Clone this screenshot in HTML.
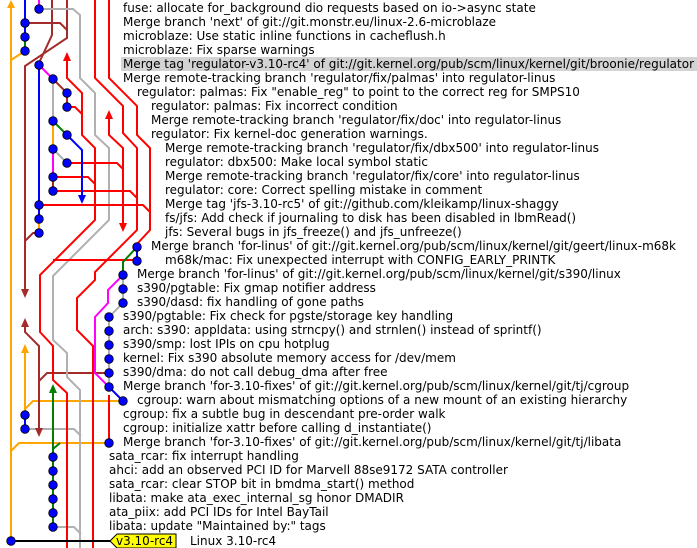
<!DOCTYPE html>
<html><head><meta charset="utf-8"><style>
html,body{margin:0;padding:0;background:#fff;}
#c{position:relative;width:697px;height:548px;overflow:hidden;background:#fff;}
svg{position:absolute;left:0;top:0;}
.t{position:absolute;font-family:"DejaVu Sans","Liberation Sans",sans-serif;font-size:12px;line-height:14px;height:14px;white-space:nowrap;color:#000;}
</style></head><body><div id="c">
<div style="position:absolute;left:121px;top:57px;width:576px;height:14px;background:#d3d3d3"></div>
<svg width="697" height="548" viewBox="0 0 697 548" fill="none" stroke-width="2" stroke-linejoin="miter">
<path d="M11 6 V541" stroke="#ffa500"/>
<path d="M11 60 L25 51" stroke="#ffa500"/>
<path d="M25 352 V409 L33 401 H123" stroke="#ffa500"/>
<path d="M25 409 V415" stroke="#ffa500"/>
<path d="M109 443 H19 L11 451" stroke="#ffa500"/>
<path d="M53 121 V149" stroke="#ffa500"/>
<path d="M39 219 V233" stroke="#ffa500"/>
<path d="M25 0 V37" stroke="#0000ff"/>
<path d="M25 37 V51" stroke="#008000"/>
<path d="M39 0 V9" stroke="#ff00ff"/>
<path d="M39 65 V219" stroke="#0000ff"/>
<path d="M25 415 V429" stroke="#0000ff"/>
<path d="M52 0 V35 L39 63" stroke="#a52a2a"/>
<path d="M25 23 H60 L67 30" stroke="#a52a2a"/>
<path d="M67 0 V38 L25 66 V293" stroke="#a52a2a"/>
<path d="M39 233 H33 L25 241" stroke="#a52a2a"/>
<path d="M53 79 L67 93 V107" stroke="#a52a2a"/>
<path d="M53 177 V191" stroke="#a52a2a"/>
<path d="M25 326 V332 L39 346 V433" stroke="#a52a2a"/>
<path d="M109 373 H47 L39 381" stroke="#a52a2a"/>
<path d="M39 65 L53 79" stroke="#ff00ff"/>
<path d="M53 149 V177" stroke="#ff00ff"/>
<path d="M53 121 L67 135" stroke="#008000"/>
<path d="M123 275 L108 290 V303 L95 317 V373 L109 387" stroke="#ff00ff"/>
<path d="M109 387 L123 401" stroke="#0000ff"/>
<path d="M39 9 H73 L80 15 V78 L95 93 V135 L109 148 V220 L53 276 V340 L67 353 V377 L80 390 V548" stroke="#b0b0b0"/>
<path d="M53 79 V121" stroke="#b0b0b0"/>
<path d="M53 149 L67 163" stroke="#b0b0b0"/>
<path d="M123 275 V303 L109 317 V387" stroke="#b0b0b0"/>
<path d="M25 429 H74 L81 436" stroke="#b0b0b0"/>
<path d="M53 527 H74 L81 534" stroke="#b0b0b0"/>
<path d="M67 61 V78 L82 93 V135 L95 148 V220 L40 275 V332 L53 346 V380 L67 393 V548" stroke="#ff0000"/>
<path d="M67 107 H75 L82 114" stroke="#ff0000"/>
<path d="M95 0 V78 L123 106 V133 L137 148 V230 L95 272 V280 L77 298 V330 L93 346 V548" stroke="#ff0000"/>
<path d="M109 0 V78 L137 106 V135 L150 148 V230 L137 244" stroke="#ff0000"/>
<path d="M109 116 V135 L123 148 V224" stroke="#ff0000"/>
<path d="M67 163 H117 L123 169" stroke="#ff0000"/>
<path d="M53 177 H88 L95 184" stroke="#ff0000"/>
<path d="M53 191 H130 L137 198" stroke="#ff0000"/>
<path d="M39 205 H143 L150 212" stroke="#ff0000"/>
<path d="M53 260 H137" stroke="#ff0000"/>
<path d="M109 395 V443" stroke="#ff0000"/>
<path d="M67 135 L82 150 V196" stroke="#0000ff"/>
<path d="M137 247 V261" stroke="#0000ff"/>
<path d="M137 247 L123 262 V275" stroke="#008000"/>
<path d="M53 389 V527" stroke="#008000"/>
<path d="M53 449 L60 443" stroke="#008000"/>
<path d="M11 541 H112" stroke="#000"/>
<g stroke="none">
<polygon points="11,0 7,8 15,8" fill="#ffa500"/>
<polygon points="67,52 63,61 71,61" fill="#ff0000"/>
<polygon points="109,110 105,119 113,119" fill="#ff0000"/>
<polygon points="82,204 78,195 86,195" fill="#0000ff"/>
<polygon points="123,232 119,223 127,223" fill="#ff0000"/>
<polygon points="25,298 21,289 29,289" fill="#a52a2a"/>
<polygon points="25,318 21,327 29,327" fill="#a52a2a"/>
<polygon points="25,344 21,353 29,353" fill="#ffa500"/>
<polygon points="53,384 49,393 57,393" fill="#008000"/>
<polygon points="39,437 35,428 43,428" fill="#a52a2a"/>
</g>
<g fill="#0000ff" stroke="#000" stroke-width="0.8">
<circle cx="39" cy="9" r="4.3"/><circle cx="25" cy="23" r="4.3"/><circle cx="25" cy="37" r="4.3"/><circle cx="25" cy="51" r="4.3"/>
<circle cx="39" cy="65" r="4.3"/><circle cx="53" cy="79" r="4.3"/><circle cx="67" cy="93" r="4.3"/><circle cx="67" cy="107" r="4.3"/>
<circle cx="53" cy="121" r="4.3"/><circle cx="67" cy="135" r="4.3"/><circle cx="53" cy="149" r="4.3"/><circle cx="67" cy="163" r="4.3"/>
<circle cx="53" cy="177" r="4.3"/><circle cx="53" cy="191" r="4.3"/><circle cx="39" cy="205" r="4.3"/><circle cx="39" cy="219" r="4.3"/>
<circle cx="39" cy="233" r="4.3"/><circle cx="137" cy="247" r="4.3"/><circle cx="137" cy="261" r="4.3"/><circle cx="123" cy="275" r="4.3"/>
<circle cx="123" cy="289" r="4.3"/><circle cx="123" cy="303" r="4.3"/><circle cx="109" cy="317" r="4.3"/><circle cx="109" cy="331" r="4.3"/>
<circle cx="109" cy="345" r="4.3"/><circle cx="109" cy="359" r="4.3"/><circle cx="109" cy="373" r="4.3"/><circle cx="109" cy="387" r="4.3"/>
<circle cx="123" cy="401" r="4.3"/><circle cx="25" cy="415" r="4.3"/><circle cx="25" cy="429" r="4.3"/><circle cx="109" cy="443" r="4.3"/>
<circle cx="53" cy="457" r="4.3"/><circle cx="53" cy="471" r="4.3"/><circle cx="53" cy="485" r="4.3"/><circle cx="53" cy="499" r="4.3"/>
<circle cx="53" cy="513" r="4.3"/><circle cx="53" cy="527" r="4.3"/><circle cx="11" cy="541" r="4.3"/>
</g>
<polygon points="110,541 117,534 176,534 176,548 117,548" fill="#ffff00" stroke="#000" stroke-width="1"/>
</svg>
<div class="t" style="left:116px;top:534px;">v3.10-rc4</div>
<div class="t" style="left:123px;top:1px">fuse: allocate for_background dio requests based on io-&gt;async state</div>
<div class="t" style="left:123px;top:15px">Merge branch 'next' of git://git.monstr.eu/linux-2.6-microblaze</div>
<div class="t" style="left:123px;top:29px">microblaze: Use static inline functions in cacheflush.h</div>
<div class="t" style="left:123px;top:43px">microblaze: Fix sparse warnings</div>
<div class="t" style="left:123px;top:57px">Merge tag 'regulator-v3.10-rc4' of git://git.kernel.org/pub/scm/linux/kernel/git/broonie/regulator</div>
<div class="t" style="left:123px;top:71px">Merge remote-tracking branch 'regulator/fix/palmas' into regulator-linus</div>
<div class="t" style="left:137px;top:85px">regulator: palmas: Fix "enable_reg" to point to the correct reg for SMPS10</div>
<div class="t" style="left:151px;top:99px">regulator: palmas: Fix incorrect condition</div>
<div class="t" style="left:151px;top:113px">Merge remote-tracking branch 'regulator/fix/doc' into regulator-linus</div>
<div class="t" style="left:151px;top:127px">regulator: Fix kernel-doc generation warnings.</div>
<div class="t" style="left:165px;top:141px">Merge remote-tracking branch 'regulator/fix/dbx500' into regulator-linus</div>
<div class="t" style="left:165px;top:155px">regulator: dbx500: Make local symbol static</div>
<div class="t" style="left:165px;top:169px">Merge remote-tracking branch 'regulator/fix/core' into regulator-linus</div>
<div class="t" style="left:165px;top:183px">regulator: core: Correct spelling mistake in comment</div>
<div class="t" style="left:165px;top:197px">Merge tag 'jfs-3.10-rc5' of git://github.com/kleikamp/linux-shaggy</div>
<div class="t" style="left:165px;top:211px">fs/jfs: Add check if journaling to disk has been disabled in lbmRead()</div>
<div class="t" style="left:165px;top:225px">jfs: Several bugs in jfs_freeze() and jfs_unfreeze()</div>
<div class="t" style="left:151px;top:239px">Merge branch 'for-linus' of git://git.kernel.org/pub/scm/linux/kernel/git/geert/linux-m68k</div>
<div class="t" style="left:165px;top:253px">m68k/mac: Fix unexpected interrupt with CONFIG_EARLY_PRINTK</div>
<div class="t" style="left:137px;top:267px">Merge branch 'for-linus' of git://git.kernel.org/pub/scm/linux/kernel/git/s390/linux</div>
<div class="t" style="left:137px;top:281px">s390/pgtable: Fix gmap notifier address</div>
<div class="t" style="left:137px;top:295px">s390/dasd: fix handling of gone paths</div>
<div class="t" style="left:123px;top:309px">s390/pgtable: Fix check for pgste/storage key handling</div>
<div class="t" style="left:123px;top:323px">arch: s390: appldata: using strncpy() and strnlen() instead of sprintf()</div>
<div class="t" style="left:123px;top:337px">s390/smp: lost IPIs on cpu hotplug</div>
<div class="t" style="left:123px;top:351px">kernel: Fix s390 absolute memory access for /dev/mem</div>
<div class="t" style="left:123px;top:365px">s390/dma: do not call debug_dma after free</div>
<div class="t" style="left:123px;top:379px">Merge branch 'for-3.10-fixes' of git://git.kernel.org/pub/scm/linux/kernel/git/tj/cgroup</div>
<div class="t" style="left:137px;top:393px">cgroup: warn about mismatching options of a new mount of an existing hierarchy</div>
<div class="t" style="left:123px;top:407px">cgroup: fix a subtle bug in descendant pre-order walk</div>
<div class="t" style="left:123px;top:421px">cgroup: initialize xattr before calling d_instantiate()</div>
<div class="t" style="left:123px;top:435px">Merge branch 'for-3.10-fixes' of git://git.kernel.org/pub/scm/linux/kernel/git/tj/libata</div>
<div class="t" style="left:109px;top:449px">sata_rcar: fix interrupt handling</div>
<div class="t" style="left:109px;top:463px">ahci: add an observed PCI ID for Marvell 88se9172 SATA controller</div>
<div class="t" style="left:109px;top:477px">sata_rcar: clear STOP bit in bmdma_start() method</div>
<div class="t" style="left:109px;top:491px">libata: make ata_exec_internal_sg honor DMADIR</div>
<div class="t" style="left:109px;top:505px">ata_piix: add PCI IDs for Intel BayTail</div>
<div class="t" style="left:109px;top:519px">libata: update "Maintained by:" tags</div>
<div class="t" style="left:190px;top:534px">Linux 3.10-rc4</div>
</div></body></html>
